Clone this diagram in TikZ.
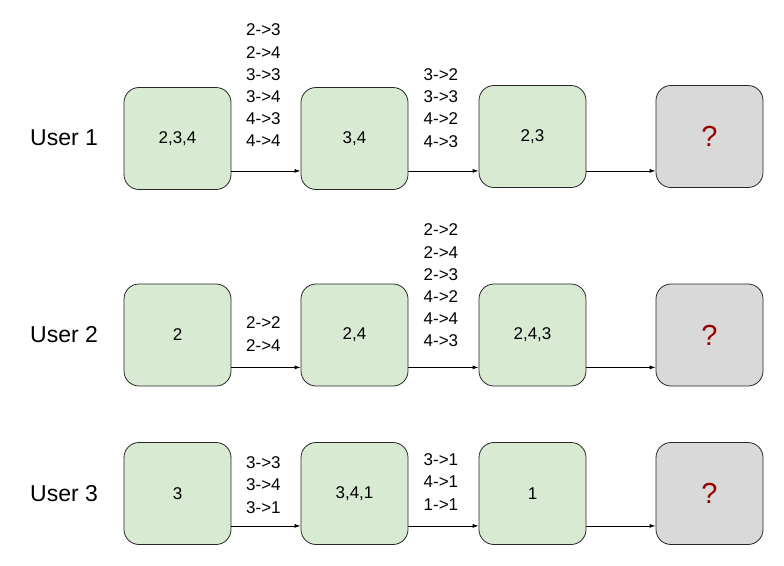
\documentclass[tikz,border=0pt]{standalone}
\usepackage{fontspec}
\setmainfont{Liberation Sans}
\usetikzlibrary{arrows.meta}
\definecolor{boxgreen}{HTML}{D9EAD3}
\definecolor{boxgray}{HTML}{D9D9D9}
\definecolor{qred}{HTML}{990000}
\begin{document}
\begin{tikzpicture}[x=1pt,y=-1pt,
  state/.style={draw=black!85,line width=0.8pt,fill=boxgreen,rounded corners=15pt,
    minimum width=107pt,minimum height=102pt,inner sep=0pt,font=\fontsize{17}{20}\selectfont},
  unknown/.style={state,fill=boxgray,text=qred,font=\fontsize{29}{32}\selectfont},
  user/.style={anchor=west,inner sep=0pt,font=\fontsize{23}{26}\selectfont},
  trans/.style={anchor=west,inner sep=0pt,align=left,font=\fontsize{17}{22.2}\selectfont},
  arr/.style={-{Latex[length=6pt,width=4pt]},line width=0.8pt}]
\useasboundingbox (0,0) rectangle (784,565);
% Row 1
\node[user] (u1) at (30,138) {User 1};
\node[state] (a1) at (177.5,138.5) {2,3,4};
\node[state] (a2) at (354.5,138.5) {3,4};
\node[state] (a3) at (532.5,136.5) {2,3};
\node[unknown] (a4) at (709.5,136.5) {?};
\node[trans] (t11) at (246,85.5) {2->3\\2->4\\3->3\\3->4\\4->3\\4->4};
\node[trans] (t12) at (423.5,108) {3->2\\3->3\\4->2\\4->3};
\draw[arr] ([yshift=19pt]a1.south east) -- ([yshift=19pt]a2.south west);
\draw[arr] ([yshift=19pt]a2.south east) -- ([yshift=19pt-2pt]a3.south west);
\draw[arr] ([yshift=17pt]a3.south east) -- ([yshift=17pt]a4.south west);
% Row 2
\node[user] (u2) at (30,335) {User 2};
\node[state] (b1) at (177.5,335) {2};
\node[state] (b2) at (354.5,335) {2,4};
\node[state] (b3) at (532.5,335) {2,4,3};
\node[unknown] (b4) at (709.5,335) {?};
\node[trans] (t21) at (246,334) {2->2\\2->4};
\node[trans] (t22) at (423.5,285.5) {2->2\\2->4\\2->3\\4->2\\4->4\\4->3};
\draw[arr] ([yshift=19pt]b1.south east) -- ([yshift=19pt]b2.south west);
\draw[arr] ([yshift=19pt]b2.south east) -- ([yshift=19pt]b3.south west);
\draw[arr] ([yshift=19pt]b3.south east) -- ([yshift=19pt]b4.south west);
% Row 3
\node[user] (u3) at (30,493.5) {User 3};
\node[state] (c1) at (177.5,493.5) {3};
\node[state] (c2) at (354.5,493.5) {3,4,1};
\node[state] (c3) at (532.5,493.5) {1};
\node[unknown] (c4) at (709.5,493.5) {?};
\node[trans] (t31) at (246,485) {3->3\\3->4\\3->1};
\node[trans] (t32) at (423.5,482) {3->1\\4->1\\1->1};
\draw[arr] ([yshift=19pt]c1.south east) -- ([yshift=19pt]c2.south west);
\draw[arr] ([yshift=19pt]c2.south east) -- ([yshift=19pt]c3.south west);
\draw[arr] ([yshift=19pt]c3.south east) -- ([yshift=19pt]c4.south west);
\end{tikzpicture}
\end{document}
